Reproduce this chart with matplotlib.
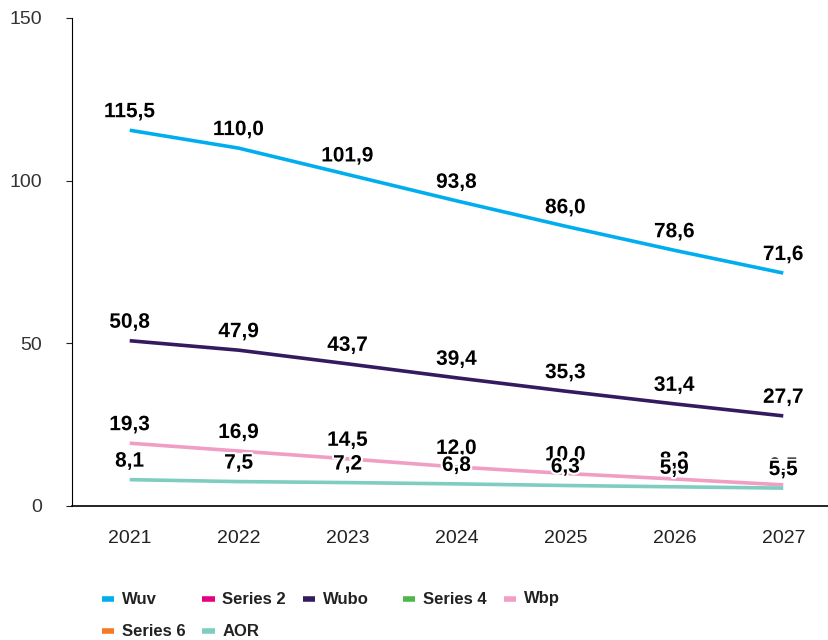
import numpy as np
import matplotlib.pyplot as plt
import matplotlib.patheffects as pe
from matplotlib.lines import Line2D

# data
years = ['2021', '2022', '2023', '2024', '2025', '2026', '2027']
wuv = [115.5, 110.0, 101.9, 93.8, 86.0, 78.6, 71.6]
wubo = [50.8, 47.9, 43.7, 39.4, 35.3, 31.4, 27.7]
wbp = [19.3, 16.9, 14.5, 12.0, 10.0, 8.3, 6.5]
aor = [8.1, 7.5, 7.2, 6.8, 6.3, 5.9, 5.5]
series2 = []
series4 = []
series6 = []

legend_names = ['Wuv', 'Series 2', 'Wubo', 'Series 4', 'Wbp', 'Series 6', 'AOR']
legend_colors = ['#00AEEF', '#E6007E', '#341A5E', '#4DB848', '#F09EC4',
                 '#F47920', '#7ECDC0']

plt.rcParams['font.family'] = ['Liberation Sans', 'DejaVu Sans']

fig = plt.figure(figsize=(8.29, 6.4), dpi=100)
ax = fig.add_axes([72 / 829, 1 - 506 / 640, (829 - 72) / 829, (506 - 18) / 640])

x = np.arange(len(years))
lw = 2.6

ax.plot(x, wuv, color=legend_colors[0], lw=lw, solid_capstyle='butt')
ax.plot(series2, series2, color=legend_colors[1], lw=lw)
ax.plot(x, wubo, color=legend_colors[2], lw=lw, solid_capstyle='butt')
ax.plot(series4, series4, color=legend_colors[3], lw=lw)
ax.plot(x, wbp, color=legend_colors[4], lw=lw, solid_capstyle='butt')
ax.plot(series6, series6, color=legend_colors[5], lw=lw)
ax.plot(x, aor, color=legend_colors[6], lw=lw, solid_capstyle='butt')

# value labels, AOR last so it covers Wbp where they collide
halo = [pe.withStroke(linewidth=3, foreground='white')]
for series in [wuv, wubo, wbp, aor]:
    for xi, v in zip(x, series):
        ax.annotate(f'{v:.1f}'.replace('.', ','), (xi, v), xytext=(0, 6.5),
                    textcoords='offset points', ha='center', va='bottom',
                    fontsize=15, fontweight='bold', color='black',
                    path_effects=halo)

ax.set_xlim(-0.53, 6.42)
ax.set_ylim(0, 150)
ax.set_yticks([0, 50, 100, 150])
ax.set_xticks(x)
ax.set_xticklabels(years)
ax.tick_params(axis='x', length=0, pad=17, labelsize=14, colors='#222222')
ax.tick_params(axis='y', length=4.5, width=0.8, pad=17, labelsize=14,
               colors='#222222', direction='out')
for lbl in ax.get_yticklabels():
    lbl.set_color('#333333')
ax.spines['top'].set_visible(False)
ax.spines['right'].set_visible(False)
ax.spines['left'].set_linewidth(0.8)
ax.spines['bottom'].set_linewidth(1.2)

# legend laid out row by row, five per row, fixed pitch
x0, pitch = 102, 100.5
row_y = [599, 631]
for i, (name, col) in enumerate(zip(legend_names, legend_colors)):
    r, c = divmod(i, 5)
    lx = x0 + c * pitch
    ly = 1 - row_y[r] / 640
    fig.add_artist(Line2D([lx / 829, (lx + 12) / 829], [ly, ly], color=col,
                          lw=4, solid_capstyle='butt'))
    fig.text((lx + 20) / 829, ly, name, ha='left', va='center', fontsize=12,
             fontweight='bold', color='#222222',
             family=['Liberation Sans Narrow', 'Liberation Sans'])

fig.savefig('out.png', dpi=100)
